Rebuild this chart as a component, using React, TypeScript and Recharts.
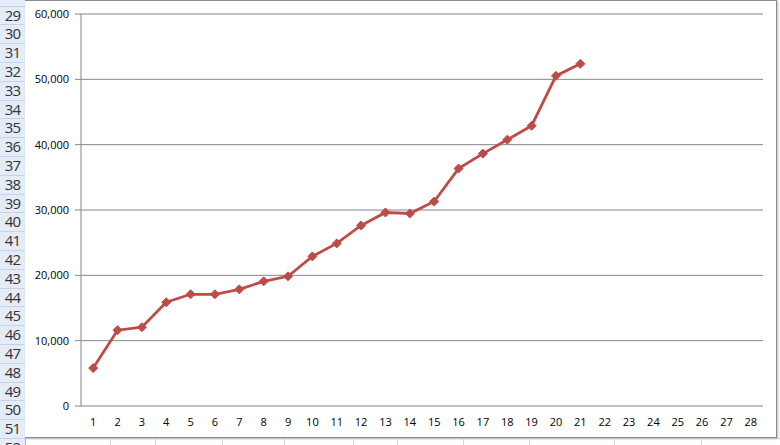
import React from "react";
import { LineChart, Line, XAxis, YAxis, CartesianGrid } from "recharts";

const days = Array.from({ length: 28 }, (_, i) => i + 1);
const values: (number | null)[] = [
  5800, 11600, 12060, 15880, 17100, 17100, 17860, 19080, 19850, 22900,
  24890, 27630, 29620, 29470, 31300, 36340, 38630, 40760, 42900, 50530, 52370,
];
const yTicks = [0, 10000, 20000, 30000, 40000, 50000, 60000];
const boundaryTicks = Array.from({ length: 29 }, (_, i) => i + 0.5);
const rowLabels = Array.from({ length: 24 }, (_, i) => String(29 + i));
const cellLines = [110, 155, 222, 284, 353, 397, 463, 529, 614, 701];

const data = days.map((d, i) => ({ day: d, value: i < values.length ? values[i] : null }));

const Diamond = (props: any) => {
  const { cx, cy } = props;
  if (cx == null || cy == null || props.value == null) return null;
  const r = 4.5;
  return (
    <path
      d={`M${cx},${cy - r} L${cx + r},${cy} L${cx},${cy + r} L${cx - r},${cy} Z`}
      fill="#BE4B48"
      stroke="#BE4B48"
      strokeWidth={1}
    />
  );
};

const fmt = (v: number) => v.toLocaleString("en-US");

export default function App() {
  const rowH = 18.8;
  return (
    <div style={{ position: "absolute", left: 0, top: 0, width: 780, height: 445, background: "#fff", overflow: "hidden", fontFamily: "'Open Sans', sans-serif" }}>
      {/* row header */}
      <div style={{ position: "absolute", left: 0, top: 0, width: 25, height: 445, background: "#E4ECF7", borderRight: "1px solid #9EB6CE" }}>
        {rowLabels.map((r, i) => (
          <div
            key={r}
            style={{
              position: "absolute",
              left: 0,
              top: 5.5 + i * rowH,
              width: 25,
              height: rowH,
              borderTop: "1px solid #C5D3E6",
              boxSizing: "border-box",
              fontSize: 15,
              lineHeight: `${rowH - 1}px`,
              color: "#333",
              textAlign: "center",
              letterSpacing: -0.8,
            }}
          >
            {r}
          </div>
        ))}
      </div>
      {/* cells below chart */}
      <div style={{ position: "absolute", left: 26, top: 438, width: 760, height: 10, borderTop: "1px solid #D4D4D4" }} />
      {cellLines.map((x) => (
        <div key={x} style={{ position: "absolute", left: x, top: 438, width: 1, height: 10, background: "#D4D4D4" }} />
      ))}
      {/* chart area */}
      <div style={{ position: "absolute", left: 25, top: 0, width: 751, height: 436, border: "1px solid #8C8C8C", borderLeft: "none", background: "#fff", boxShadow: "1px 1px 2px #bbb" }}>
        <LineChart width={751} height={436} data={data} margin={{ top: 13, right: 13, bottom: 6, left: 0 }}>
          <CartesianGrid vertical={false} stroke="#868686" strokeWidth={1} />
          <XAxis
            xAxisId="b"
            dataKey="day"
            type="number"
            domain={[0.5, 28.5]}
            ticks={boundaryTicks}
            tick={() => <g />}
            tickSize={5}
            height={0}
            axisLine={{ stroke: "#868686" }}
            tickLine={{ stroke: "#868686" }}
            interval={0}
            allowDecimals
          />
          <XAxis
            xAxisId="a"
            dataKey="day"
            type="number"
            domain={[0.5, 28.5]}
            ticks={days}
            interval={0}
            height={25}
            axisLine={false}
            tickLine={false}
            tickSize={10}
            tick={{ fill: "#000", fontSize: 11, fontFamily: "'Open Sans', sans-serif" }}
          />
          <YAxis
            domain={[0, 60000]}
            ticks={yTicks}
            tickFormatter={fmt}
            width={56}
            tickSize={6}
            tickMargin={6}
            axisLine={{ stroke: "#868686" }}
            tickLine={{ stroke: "#868686" }}
            tick={{ fill: "#000", fontSize: 11, fontFamily: "'Open Sans', sans-serif" }}
          />
          <Line
            xAxisId="a"
            dataKey="value"
            stroke="#BE4B48"
            strokeWidth={2.8}
            dot={<Diamond />}
            activeDot={false}
            connectNulls={false}
            isAnimationActive={false}
          />
        </LineChart>
      </div>
    </div>
  );
}
